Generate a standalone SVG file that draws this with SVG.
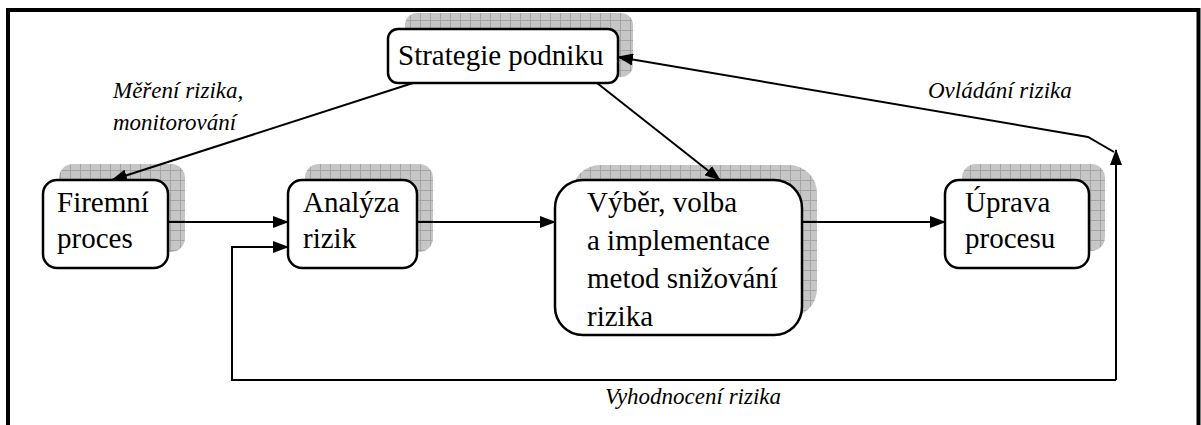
<svg xmlns="http://www.w3.org/2000/svg" width="1201" height="425" viewBox="0 0 1201 425">
<style>
.box{fill:#fff;stroke:#000;stroke-width:2.5}
.sh{fill:url(#grid);stroke:none}
.c{fill:none;stroke:#000;stroke-width:2}
</style>
<defs>
<pattern id="grid" width="10" height="10" patternUnits="userSpaceOnUse">
<rect width="10" height="10" fill="#c6c6c6"/>
<path d="M0,0.5H10M0.5,0V10" stroke="#a4a4a4" stroke-width="1"/>
</pattern>
<marker id="ah" markerWidth="16" markerHeight="12" refX="15" refY="6" orient="auto" markerUnits="userSpaceOnUse">
<path d="M0,0L16,6L0,12z" fill="#000"/>
</marker>
</defs>
<rect width="1201" height="425" fill="#fff"/>
<path d="M8,430V10H1198.5V430" fill="none" stroke="#000" stroke-width="4"/>

<g id="strategie">
<rect class="sh" x="405" y="13" width="228" height="64" rx="12"/>
<rect class="box" x="388" y="29" width="230" height="54" rx="10"/>
<text x="398" y="65" font-family="Liberation Serif" font-size="29" style="font-family:'Liberation Serif',serif">Strategie podniku</text>
</g>

<g id="firemni">
<rect class="sh" x="59" y="164" width="126" height="88" rx="14"/>
<rect class="box" x="43" y="180" width="125" height="88" rx="14"/>
<text x="57" y="212" font-family="Liberation Serif" font-size="29" style="font-family:'Liberation Serif',serif">Firemní</text>
<text x="57" y="248" font-family="Liberation Serif" font-size="29" style="font-family:'Liberation Serif',serif">proces</text>
</g>

<g id="analyza">
<rect class="sh" x="305" y="164" width="128" height="88" rx="14"/>
<rect class="box" x="288" y="180" width="129" height="88" rx="14"/>
<text x="303" y="212" font-family="Liberation Serif" font-size="29" style="font-family:'Liberation Serif',serif">Analýza</text>
<text x="303" y="248" font-family="Liberation Serif" font-size="29" style="font-family:'Liberation Serif',serif">rizik</text>
</g>

<g id="vyber">
<rect class="sh" x="572" y="165" width="245" height="152" rx="28"/>
<rect class="box" x="555" y="180" width="247" height="155" rx="28"/>
<text x="587" y="212" font-family="Liberation Serif" font-size="29" style="font-family:'Liberation Serif',serif">Výběr, volba</text>
<text x="587" y="250" font-family="Liberation Serif" font-size="29" style="font-family:'Liberation Serif',serif">a implementace</text>
<text x="587" y="288" font-family="Liberation Serif" font-size="29" style="font-family:'Liberation Serif',serif">metod snižování</text>
<text x="587" y="326" font-family="Liberation Serif" font-size="29" style="font-family:'Liberation Serif',serif">rizika</text>
</g>

<g id="uprava">
<rect class="sh" x="962" y="164" width="143" height="87" rx="14"/>
<rect class="box" x="945" y="180" width="144" height="88" rx="14"/>
<text x="965" y="212" font-family="Liberation Serif" font-size="29" style="font-family:'Liberation Serif',serif">Úprava</text>
<text x="965" y="248" font-family="Liberation Serif" font-size="29" style="font-family:'Liberation Serif',serif">procesu</text>
</g>

<g id="connectors">
<path class="c" d="M413,83L112,180" marker-end="url(#ah)"/>
<path class="c" d="M597,83L720,180" marker-end="url(#ah)"/>
<path class="c" d="M168,222H288" marker-end="url(#ah)"/>
<path class="c" d="M417,222H555" marker-end="url(#ah)"/>
<path class="c" d="M802,222H945" marker-end="url(#ah)"/>
<path class="c" d="M1116,380H232V247H288" marker-end="url(#ah)"/>
<path class="c" d="M1116,380V150" marker-end="url(#ah)"/>
<path class="c" d="M1114,152L1088,137L618,57" marker-end="url(#ah)"/>
<text x="113" y="98" font-family="Liberation Serif" font-size="23" font-style="italic" style="font-family:'Liberation Serif',serif">Měření rizika,</text>
<text x="113" y="130" font-family="Liberation Serif" font-size="23" font-style="italic" style="font-family:'Liberation Serif',serif">monitorování</text>
<text x="928" y="98" font-family="Liberation Serif" font-size="23" font-style="italic" style="font-family:'Liberation Serif',serif">Ovládání rizika</text>
<text x="693" y="404" text-anchor="middle" font-family="Liberation Serif" font-size="23" font-style="italic" style="font-family:'Liberation Serif',serif">Vyhodnocení rizika</text>
</g>
</svg>
